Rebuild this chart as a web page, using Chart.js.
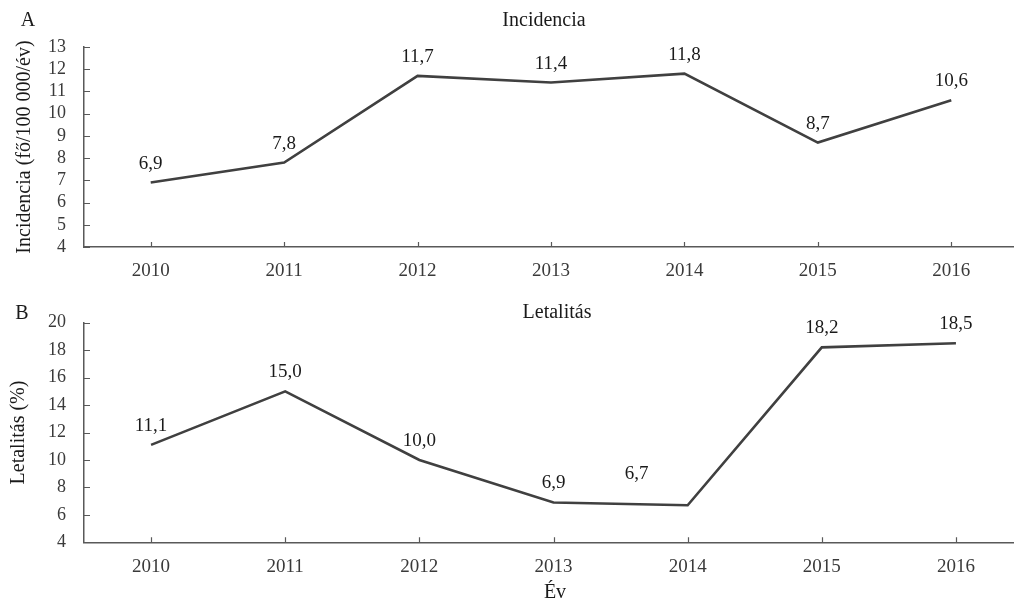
<!DOCTYPE html>
<html>
<head>
<meta charset="utf-8">
<script src="https://cdn.jsdelivr.net/npm/chart.js@4.4.1/dist/chart.umd.min.js"></script>
<style>
  html, body { margin: 0; padding: 0; background: #fff; overflow: hidden; width: 1014px; height: 603px; }
  .panel { position: absolute; left: 0; }
  #panelA { top: 0; }
  #panelB { top: 290px; }
</style>
</head>
<body>
<div class="panel" id="panelA"><canvas id="chartA" width="1040" height="290"></canvas></div>
<div class="panel" id="panelB"><canvas id="chartB" width="1040" height="313"></canvas></div>
<script>
// Years on the horizontal axis
const years = ['2010', '2011', '2012', '2013', '2014', '2015', '2016'];
// A: incidence per 100 000 population per year
const incidence = [6.9, 7.8, 11.7, 11.4, 11.8, 8.7, 10.6];
// B: lethality, percent
const lethality = [11.1, 15.0, 10.0, 6.9, 6.7, 18.2, 18.5];
// Value-axis ranges and steps
const incidenceAxis = { min: 4, max: 13, step: 1 };
const lethalityAxis = { min: 4, max: 20, step: 2 };

const SERIF = "'Liberation Serif', 'Times New Roman', serif";
const TEXT = '#1a1a1a';
const TICK_TEXT = '#3a3a3a';
const AXIS = '#595959';
const LINE = '#404040';

const fmt = v => v.toFixed(1).replace('.', ',');

// Short tick marks pointing into the plot area
const inwardTicks = {
  id: 'inwardTicks',
  afterDraw(chart) {
    const { ctx } = chart;
    const xs = chart.scales.x, ys = chart.scales.y;
    ctx.save();
    ctx.strokeStyle = AXIS;
    ctx.lineWidth = 1.2;
    ctx.beginPath();
    ys.ticks.forEach((t, i) => {
      const py = Math.round(ys.getPixelForTick(i)) + 0.5;
      ctx.moveTo(ys.right, py);
      ctx.lineTo(ys.right + 6, py);
    });
    xs.ticks.forEach((t, i) => {
      const px = Math.round(xs.getPixelForTick(i)) + 0.5;
      ctx.moveTo(px, xs.top);
      ctx.lineTo(px, xs.top - 5);
    });
    ctx.stroke();
    ctx.restore();
  }
};

// Value written above each point of the line
const valueLabels = {
  id: 'valueLabels',
  afterDatasetsDraw(chart, args, opts) {
    const { ctx } = chart;
    const meta = chart.getDatasetMeta(0);
    const values = chart.data.datasets[0].data;
    const shift = opts.shift || {};
    ctx.save();
    ctx.font = '19px ' + SERIF;
    ctx.fillStyle = TEXT;
    ctx.textAlign = 'center';
    ctx.textBaseline = 'middle';
    meta.data.forEach((pt, i) => {
      const [dx, dy] = shift[i] || [0, 0];
      ctx.fillText(fmt(values[i]), pt.x + dx, pt.y - 19 + dy);
    });
    ctx.restore();
  }
};

// Panel letter, panel title and other free text
const captions = {
  id: 'captions',
  afterDraw(chart, args, opts) {
    const { ctx } = chart;
    ctx.save();
    ctx.fillStyle = TEXT;
    ctx.textAlign = 'center';
    ctx.textBaseline = 'middle';
    (opts.items || []).forEach(it => {
      ctx.font = (it.size || 20) + 'px ' + SERIF;
      ctx.fillText(it.text, it.x, it.y);
    });
    ctx.restore();
  }
};

function makeChart(id, values, axis, cfg) {
  return new Chart(document.getElementById(id), {
    type: 'line',
    data: {
      labels: years,
      datasets: [{
        data: values,
        borderColor: LINE,
        borderWidth: 2.6,
        pointRadius: 0,
        tension: 0,
        fill: false
      }]
    },
    options: {
      responsive: false,
      animation: false,
      devicePixelRatio: 1,
      layout: { padding: cfg.padding },
      plugins: {
        legend: { display: false },
        tooltip: { enabled: false },
        title: { display: false },
        valueLabels: { shift: cfg.shift || {} },
        captions: { items: cfg.captions }
      },
      scales: {
        x: {
          type: 'category',
          offset: true,
          grid: { display: false, drawTicks: false },
          border: { display: true, color: AXIS, width: 1.5 },
          ticks: { padding: 13, color: TICK_TEXT, font: { family: SERIF, size: 19 }, maxRotation: 0, autoSkip: false },
          afterFit: s => { s.height = cfg.xHeight; }
        },
        y: {
          min: axis.min,
          max: axis.max,
          grid: { display: false, drawTicks: false },
          border: { display: true, color: AXIS, width: 1.5 },
          ticks: { stepSize: axis.step, autoSkip: false, padding: 18, color: TICK_TEXT, font: { family: SERIF, size: 18 } },
          title: {
            display: true,
            text: cfg.yTitle,
            color: TEXT,
            font: { family: SERIF, size: 20 },
            padding: { top: cfg.yTitlePad, bottom: 0 }
          },
          afterFit: s => { s.width = 84; }
        }
      }
    },
    plugins: [inwardTicks, valueLabels, captions]
  });
}

makeChart('chartA', incidence, incidenceAxis, {
  padding: { top: 47, right: 22, bottom: 0, left: 0 },
  xHeight: 43,
  yTitle: 'Incidencia (fő/100 000/év)',
  yTitlePad: 12.5,
  captions: [
    { text: 'A', x: 28, y: 21, size: 20 },
    { text: 'Incidencia', x: 544, y: 21, size: 20 }
  ]
});

makeChart('chartB', lethality, lethalityAxis, {
  padding: { top: 32.7, right: 17, bottom: 0, left: 0 },
  xHeight: 60.7,
  yTitle: 'Letalitás (%)',
  yTitlePad: 6.5,
  shift: { 4: [-51, -12] },
  captions: [
    { text: 'B', x: 22, y: 24, size: 20 },
    { text: 'Letalitás', x: 557, y: 23, size: 20 },
    { text: 'Év', x: 555, y: 303, size: 20 }
  ]
});
</script>
</body>
</html>
